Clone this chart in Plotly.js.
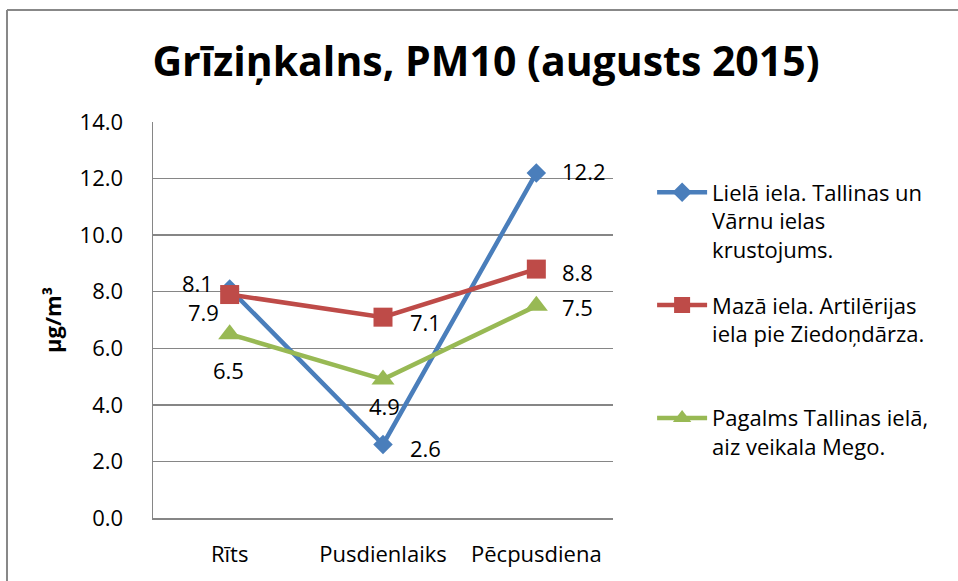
<!DOCTYPE html>
<html>
<head>
<meta charset="utf-8">
<script src="https://cdn.plot.ly/plotly-3.0.1.min.js"></script>
<style>
  html, body { margin: 0; padding: 0; background: #fff; }
  #chart { width: 958px; height: 581px; }
</style>
</head>
<body>
<div id="chart"></div>
<script>
// ---- data ----
const categories = ['Rīts', 'Pusdienlaiks', 'Pēcpusdiena'];
const lielaIela = [8.1, 2.6, 12.2];
const mazaIela = [7.9, 7.1, 8.8];
const pagalms = [6.5, 4.9, 7.5];
const seriesNames = [
  'Lielā iela. Tallinas un<br>Vārnu ielas<br>krustojums.',
  'Mazā iela. Artilērijas<br>iela pie Ziedoņdārza.<br>\u00a0',
  'Pagalms Tallinas ielā,<br>aiz veikala Mego.'
];
const chartTitle = 'Grīziņkalns, PM10 (augusts 2015)';
const yTitle = 'µg/m³';

// ---- styles ----
const FONT = 'Open Sans, Noto Sans, sans-serif';
const seriesValues = [lielaIela, mazaIela, pagalms];
const colors = ['#4A7EBB', '#BE4B48', '#98B954'];
const symbols = ['diamond', 'square', 'triangle-up'];
const sizes = [15, 19, 20];
// label offsets in px [dx, dyDown] per series per point
const labelOffsets = [
  [[-32, -6], [42, 4], [48, -2]],
  [[-26, 17], [42, 5], [41, 3]],
  [[-1, 36], [1, 27], [41, 1]]
];

const traces = seriesValues.map((vals, i) => ({
  type: 'scatter',
  mode: 'lines+markers',
  x: categories,
  y: vals,
  name: seriesNames[i],
  legendgroup: 'g' + i,
  line: { color: colors[i], width: 4.5 },
  marker: { symbol: symbols[i], size: sizes[i], color: colors[i] },
  hoverinfo: 'x+y'
}));

const annotations = [];
seriesValues.forEach((vals, i) => {
  vals.forEach((v, j) => {
    annotations.push({
      x: categories[j], y: v, xref: 'x', yref: 'y',
      text: v.toFixed(1), showarrow: false,
      xanchor: 'center', yanchor: 'middle',
      xshift: labelOffsets[i][j][0], yshift: -labelOffsets[i][j][1],
      font: { family: FONT, size: 22, color: '#000' }
    });
  });
});

const borderColor = '#888888';
const layout = {
  width: 958, height: 581,
  margin: { l: 153, r: 345, t: 122, b: 63, pad: 0 },
  paper_bgcolor: '#ffffff', plot_bgcolor: '#ffffff',
  font: { family: FONT, size: 22, color: '#000' },
  title: {
    text: '<b>' + chartTitle + '</b>',
    font: { family: FONT, size: 41, color: '#000' },
    xref: 'container', yref: 'container',
    x: 0.5073, xanchor: 'center',
    y: 0.894, yanchor: 'middle'
  },
  xaxis: {
    type: 'category',
    range: [-0.5, 2.5],
    showline: true, linecolor: '#868686', linewidth: 1.5,
    showgrid: false, zeroline: false,
    ticks: '', ticklabelstandoff: 16,
    tickfont: { family: FONT, size: 22, color: '#000' }
  },
  yaxis: {
    range: [0, 14], dtick: 2, tick0: 0,
    tickformat: '.1f',
    showline: true, linecolor: '#868686', linewidth: 1.5,
    showgrid: true, gridcolor: '#868686', gridwidth: 1.5,
    zeroline: false,
    ticks: '', ticklabelstandoff: 24,
    tickfont: { family: FONT, size: 22, color: '#000' },
    title: { text: '<b>' + yTitle + '</b>', font: { family: FONT, size: 22, color: '#000' }, standoff: 12 }
  },
  legend: {
    x: 1.085, xanchor: 'left',
    y: 0.875, yanchor: 'top',
    valign: 'top',
    itemwidth: 50,
    tracegroupgap: 24,
    bgcolor: 'rgba(0,0,0,0)',
    font: { family: FONT, size: 22, color: '#000' }
  },
  annotations: annotations,
  shapes: [
    { type: 'line', xref: 'paper', yref: 'paper', x0: -0.3174, x1: -0.3174, y0: -0.2, y1: 1.2828,
      line: { color: borderColor, width: 2 } },
    { type: 'line', xref: 'paper', yref: 'paper', x0: -0.3174, x1: 1.8, y0: 1.2828, y1: 1.2828,
      line: { color: borderColor, width: 2 } }
  ],
  showlegend: true
};

Plotly.newPlot('chart', traces, layout, { displayModeBar: false, staticPlot: true });
</script>
</body>
</html>
